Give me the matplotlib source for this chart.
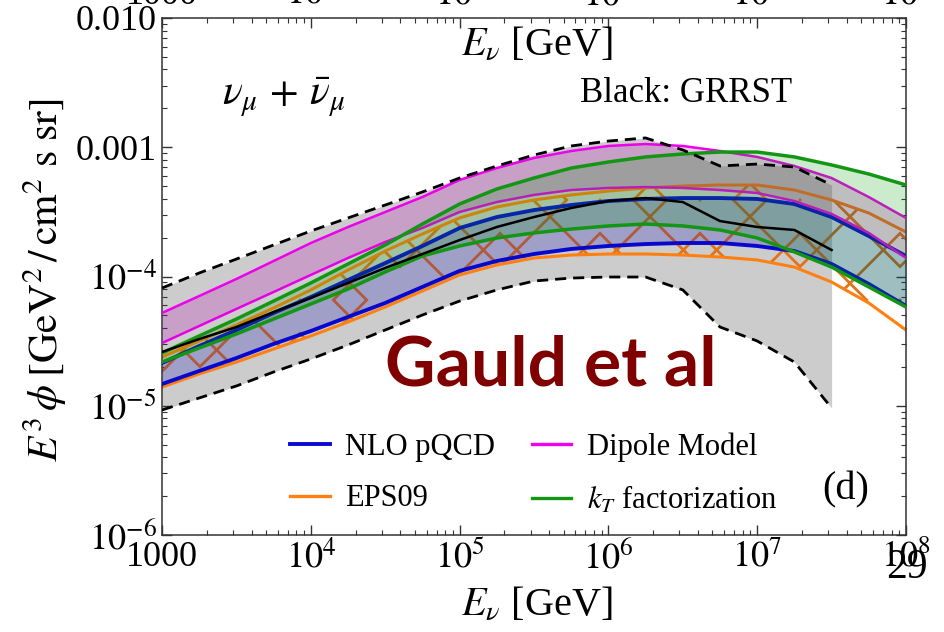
import numpy as np
import matplotlib
matplotlib.use("Agg")
import matplotlib.pyplot as plt
from matplotlib.ticker import FixedLocator, FixedFormatter, LogLocator, NullFormatter
from matplotlib.lines import Line2D
from matplotlib.backend_bases import GraphicsContextBase

# Coarser cross-hatch for the EPS09 band
_hatch_path = GraphicsContextBase.get_hatch_path
GraphicsContextBase.get_hatch_path = lambda self, density=6.0: _hatch_path(self, density=3.0)

plt.rcParams["font.family"] = ["Liberation Serif", "DejaVu Serif"]
plt.rcParams["mathtext.fontset"] = "stix"
plt.rcParams["hatch.linewidth"] = 2.0

# ---- data: log10 of E^3 phi [GeV^2 / cm^2 s sr] on a grid of log10(E/GeV) ----
log_energy = [3.0, 3.25, 3.5, 3.75, 4.0, 4.25, 4.5, 4.75, 5.0, 5.25, 5.5,
              5.75, 6.0, 6.25, 6.5, 6.75, 7.0, 7.25, 7.5, 7.75, 8.0]

# GRRST band (up to 3e7 GeV)
grrst_hi = [-4.089, -3.973, -3.865, -3.756, -3.648, -3.547, -3.447, -3.346, -3.238, -3.145,
            -3.060, -2.990, -2.952, -2.928, -3.021, -3.145, -3.130, -3.153, -3.292]
grrst_lo = [-5.033, -4.940, -4.847, -4.739, -4.638, -4.530, -4.414, -4.298, -4.190, -4.104,
            -4.035, -4.012, -4.004, -4.004, -4.104, -4.391, -4.499, -4.662, -5.017]
grrst_mid = [-4.584, -4.484, -4.391, -4.275, -4.166, -4.050, -3.934, -3.826, -3.718, -3.617,
             -3.540, -3.470, -3.416, -3.393, -3.424, -3.571, -3.617, -3.640, -3.795]

dipole_hi = [-4.282, -4.151, -4.019, -3.880, -3.741, -3.617, -3.501, -3.385, -3.253, -3.161, -3.083,
             -3.029, -2.990, -2.975, -2.990, -3.029, -3.075, -3.145, -3.238, -3.385, -3.547]
dipole_lo = [-4.515, -4.383, -4.251, -4.120, -3.988, -3.857, -3.733, -3.625, -3.501, -3.424, -3.369,
             -3.331, -3.315, -3.308, -3.315, -3.331, -3.354, -3.416, -3.516, -3.663, -3.857]

kt_hi = [-4.592, -4.460, -4.329, -4.190, -4.050, -3.903, -3.756, -3.594, -3.439, -3.323, -3.238,
         -3.161, -3.114, -3.075, -3.052, -3.037, -3.037, -3.075, -3.137, -3.207, -3.292]
kt_lo = [-4.662, -4.553, -4.445, -4.329, -4.213, -4.097, -3.965, -3.841, -3.764, -3.702, -3.663,
         -3.633, -3.609, -3.594, -3.609, -3.640, -3.702, -3.810, -3.927, -4.081, -4.236]

nlo_hi = [-4.669, -4.538, -4.414, -4.282, -4.159, -4.027, -3.896, -3.764, -3.625, -3.540, -3.486,
          -3.447, -3.416, -3.400, -3.393, -3.393, -3.400, -3.439, -3.540, -3.687, -3.841]
nlo_lo = [-4.832, -4.731, -4.631, -4.522, -4.422, -4.313, -4.205, -4.081, -3.957, -3.880, -3.826,
          -3.787, -3.764, -3.749, -3.741, -3.741, -3.764, -3.803, -3.903, -4.058, -4.228]

eps_hi = [-4.623, -4.499, -4.375, -4.244, -4.104, -3.950, -3.803, -3.671, -3.547, -3.462, -3.408,
          -3.369, -3.339, -3.315, -3.300, -3.292, -3.292, -3.331, -3.408, -3.509, -3.656]
eps_lo = [-4.855, -4.754, -4.662, -4.561, -4.460, -4.352, -4.236, -4.112, -3.988, -3.911, -3.857,
          -3.834, -3.826, -3.826, -3.834, -3.849, -3.872, -3.927, -4.043, -4.205, -4.414]

x_ticks = [1e3, 1e4, 1e5, 1e6, 1e7, 1e8]
x_tick_labels = ["1000", "$10^4$", "$10^5$", "$10^6$", "$10^7$", "$10^8$"]
y_ticks = [1e-6, 1e-5, 1e-4, 1e-3, 1e-2]
y_tick_labels = ["$10^{-6}$", "$10^{-5}$", "$10^{-4}$", "0.001", "0.010"]

labels = ["NLO pQCD", "EPS09", "Dipole Model", r"$k_T$ factorization"]

# ---- styling ----
c_blue = "#0a0ad2"
c_orange = "#ff8010"
c_magenta = "#f000f0"
c_green = "#139613"
c_gray = "#cccccc"

E = 10 ** np.array(log_energy)
n_g = len(grrst_hi)
Eg = E[:n_g]
P = lambda a: 10 ** np.array(a)

fig = plt.figure(figsize=(9.44, 6.32), dpi=100)
ax = fig.add_axes([162 / 944, 1 - 535 / 632, 744 / 944, 517 / 632])
ax.set_xscale("log")
ax.set_yscale("log")

# GRRST band
ax.fill_between(Eg, P(grrst_lo), P(grrst_hi), color=c_gray, lw=0, zorder=1)

# EPS09 hatched band
ax.fill_between(E, P(eps_lo), P(eps_hi), facecolor="none", edgecolor="#e07418",
                hatch="x", lw=0, zorder=2)
ax.plot(E, P(eps_hi), color=c_orange, lw=2.2, zorder=2.5)
ax.plot(E, P(eps_lo), color=c_orange, lw=2.2, zorder=2.5)

# NLO pQCD
ax.plot(E, P(nlo_hi), color=c_blue, lw=2.8, zorder=3)
ax.plot(E, P(nlo_lo), color=c_blue, lw=2.8, zorder=3)
ax.fill_between(E, P(nlo_lo), P(nlo_hi), color="#0000b9", alpha=0.22, lw=0, zorder=3.1)

# Dipole model
ax.plot(E, P(dipole_hi), color=c_magenta, lw=1.8, zorder=4)
ax.plot(E, P(dipole_lo), color=c_magenta, lw=1.8, zorder=4)
ax.fill_between(E, P(dipole_lo), P(dipole_hi), color="#b900b9", alpha=0.22, lw=0, zorder=4.1)

# kT factorization
ax.fill_between(E, P(kt_lo), P(kt_hi), color="#009e00", alpha=0.2, lw=0, zorder=5)
ax.plot(E, P(kt_hi), color=c_green, lw=2.5, zorder=5.1)
ax.plot(E, P(kt_lo), color=c_green, lw=2.5, zorder=5.1)

# GRRST central and edges
ax.plot(Eg, P(grrst_mid), color="black", lw=1.8, zorder=6)
ax.plot(Eg, P(grrst_hi), color="black", lw=2.0, dashes=(4, 2.5), zorder=6)
ax.plot(Eg, P(grrst_lo), color="black", lw=2.0, dashes=(4, 2.5), zorder=6)

ax.set_xlim(1e3, 1e8)
ax.set_ylim(1e-6, 1e-2)

ax.xaxis.set_major_locator(FixedLocator(x_ticks))
ax.xaxis.set_major_formatter(FixedFormatter(x_tick_labels))
ax.yaxis.set_major_locator(FixedLocator(y_ticks))
ax.yaxis.set_major_formatter(FixedFormatter(y_tick_labels))
for axis in (ax.xaxis, ax.yaxis):
    axis.set_minor_locator(LogLocator(base=10, subs=np.arange(2, 10), numticks=20))
    axis.set_minor_formatter(NullFormatter())

ax.tick_params(which="both", direction="in", top=True, right=True, labelsize=26,
               color="#333333")
ax.tick_params(which="major", length=7, width=1.0)
ax.tick_params(which="minor", length=3.5, width=0.8)
ax.tick_params(axis="x", pad=4, labeltop=True)
ax.tick_params(axis="y", pad=4)
for side in ax.spines.values():
    side.set_color("#333333")
    side.set_linewidth(1.1)

handles = [Line2D([], [], color=c_blue, lw=2.8),
           Line2D([], [], color=c_orange, lw=2.4),
           Line2D([], [], color=c_magenta, lw=2.4),
           Line2D([], [], color=c_green, lw=2.4)]
fig.legend(handles, labels, ncol=2, loc="upper left", bbox_to_anchor=(290 / 944, 1 - 432 / 632),
           frameon=False, fontsize=22, handlelength=1.3, handletextpad=0.5,
           columnspacing=1.2, labelspacing=0.75, borderpad=0, borderaxespad=0)

fig.text(537 / 944, 1 - 605 / 632, r"$E_\nu$ [GeV]", ha="center", va="center", fontsize=29)
fig.text(537 / 944, 1 - 45 / 632, r"$E_\nu$ [GeV]", ha="center", va="center", fontsize=29)
fig.text(45 / 944, 1 - 280 / 632, r"$E^3\,\phi\;[\mathrm{GeV}^2\,/\,\mathrm{cm}^2\ \mathrm{s\ sr}]$",
         rotation=90, ha="center", va="center", fontsize=30)
fig.text(222 / 944, 1 - 97 / 632, r"$\nu_\mu\,+\,\bar{\nu}_\mu$", ha="left", va="center", fontsize=30)
fig.text(580 / 944, 1 - 94 / 632, "Black: GRRST", ha="left", va="center", fontsize=25)
fig.text(846 / 944, 1 - 490 / 632, "(d)", ha="center", va="center", fontsize=29)
fig.text(385 / 944, 1 - 385 / 632, "Gauld et al", ha="left", va="baseline", fontsize=50,
         color="#800000", family="Lato", weight="bold")
fig.text(907 / 944, 1 - 578 / 632, "29", ha="center", va="baseline", fontsize=30)

fig.savefig("out.png", dpi=100)
